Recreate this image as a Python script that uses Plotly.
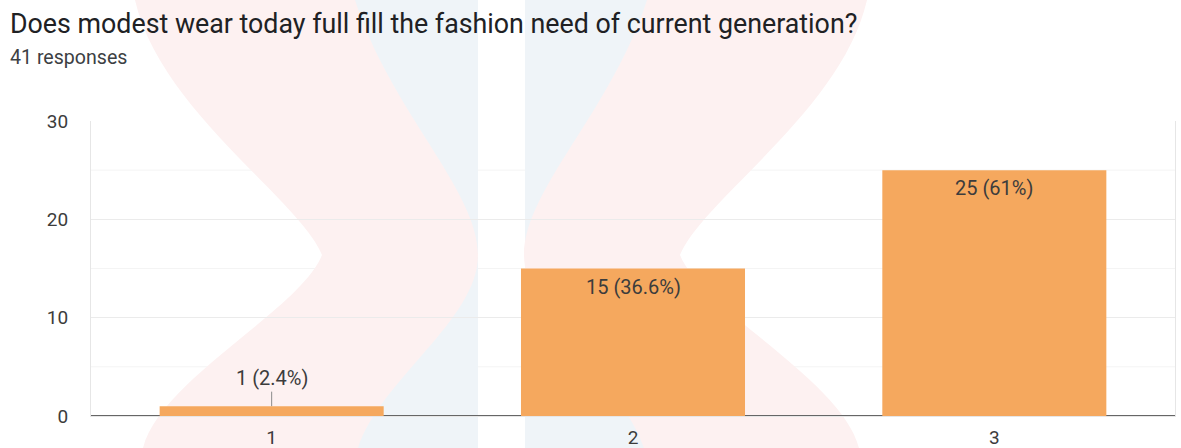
import plotly.graph_objects as go

# ---- data ----
categories = ["1", "2", "3"]
counts = [1, 15, 25]
total_responses = 41
y_tick_values = [0, 10, 20, 30]
y_tick_labels = ["0", "10", "20", "30"]
title_text = "Does modest wear today full fill the fashion need of current generation?"
subtitle_text = f"{total_responses} responses"

W, H = 1181, 448
ML, MR, MT, MB = 91, 6, 121, 32
PW, PH = W - ML - MR, H - MT - MB

def px(x):
    return (x - ML) / PW

def py(y):
    return (H - MB - y) / PH

def fmt_pct(v):
    p = round(v / total_responses * 100, 1)
    return f"{p:g}"

labels = [f"{v} ({fmt_pct(v)}%)" for v in counts]

BAR = "#f5a85e"
TXT = "#3c3c3c"

fig = go.Figure()
fig.add_trace(go.Bar(
    x=categories, y=counts, marker=dict(color=BAR, line=dict(width=0)),
    hoverinfo="skip", showlegend=False,
))

# minor gridlines (halfway)
for v in [5, 15, 25]:
    fig.add_shape(type="line", xref="paper", yref="y", x0=0, x1=1, y0=v, y1=v,
                  line=dict(color="#f4f4f4", width=1), layer="below")

# faint logo-like background
def to_path(segments):
    out = []
    for cmd, pts in segments:
        out.append(cmd + " ".join(f"{px(x):.5f},{py(y):.5f}" for x, y in pts))
    return " ".join(out) + " Z"

for x0, x1 in [(325, 478), (525, 676)]:
    fig.add_shape(type="rect", xref="paper", yref="paper",
                  x0=px(x0), x1=px(x1), y0=py(H), y1=py(0),
                  fillcolor="#eff4f8", line=dict(width=0), layer="below")

left_band = [
    ("M", [(135, 0)]),
    ("C", [(160, 110), (300, 200), (322, 255)]),
    ("C", [(300, 310), (160, 380), (143, 448)]),
    ("L", [(358, 448)]),
    ("C", [(380, 380), (478, 320), (478, 255)]),
    ("C", [(478, 190), (390, 110), (355, 0)]),
]
right_band = [(c, [(1002 - x, y) for x, y in pts]) for c, pts in left_band]
for band in (left_band, right_band):
    fig.add_shape(type="path", xref="paper", yref="paper", path=to_path(band),
                  fillcolor="#fdf1f1", line=dict(width=0), layer="below")

# data labels
for i, (v, t) in enumerate(zip(counts, labels)):
    if v < 3:
        fig.add_annotation(x=i, y=v, xref="x", yref="y", text=t, showarrow=True,
                           arrowhead=0, arrowwidth=1, arrowcolor="#8a8a8a",
                           ax=0, ay=-28, standoff=0,
                           font=dict(size=20, color=TXT))
    else:
        fig.add_annotation(x=i, y=v, xref="x", yref="y", text=t, showarrow=False,
                           yanchor="top", yshift=-4,
                           font=dict(size=20, color=TXT))

# title and subtitle
fig.add_annotation(xref="paper", yref="paper", x=px(8), y=py(24), xanchor="left",
                   yanchor="middle", text=title_text, showarrow=False,
                   font=dict(size=26.8, color="#202124"))
fig.add_annotation(xref="paper", yref="paper", x=px(8), y=py(57), xanchor="left",
                   yanchor="middle", text=subtitle_text, showarrow=False,
                   font=dict(size=19.6, color="#3c4043"))

fig.update_layout(
    width=W, height=H,
    margin=dict(l=ML, r=MR, t=MT, b=MB, autoexpand=False),
    paper_bgcolor="white", plot_bgcolor="rgba(0,0,0,0)",
    font=dict(family="Roboto, Arial, sans-serif", size=19, color=TXT),
    bargap=0.38,
    showlegend=False,
)
fig.update_xaxes(
    type="category", showgrid=False, ticks="", zeroline=False,
    showline=True, linecolor="#e6e6e6", linewidth=1,
    ticklabelstandoff=4, automargin=False,
    tickfont=dict(size=19, color=TXT),
)
fig.update_yaxes(
    range=[0, 30], tickvals=y_tick_values, ticktext=y_tick_labels,
    showgrid=True, gridcolor="#ebebeb", gridwidth=1,
    zeroline=True, zerolinecolor="#666666", zerolinewidth=2,
    showline=True, linecolor="#e6e6e6", linewidth=1, mirror=True,
    ticks="", ticklabelstandoff=18, automargin=False,
    tickfont=dict(size=19, color=TXT),
    fixedrange=True,
)

fig.write_html("out.html", config={"displayModeBar": False})
